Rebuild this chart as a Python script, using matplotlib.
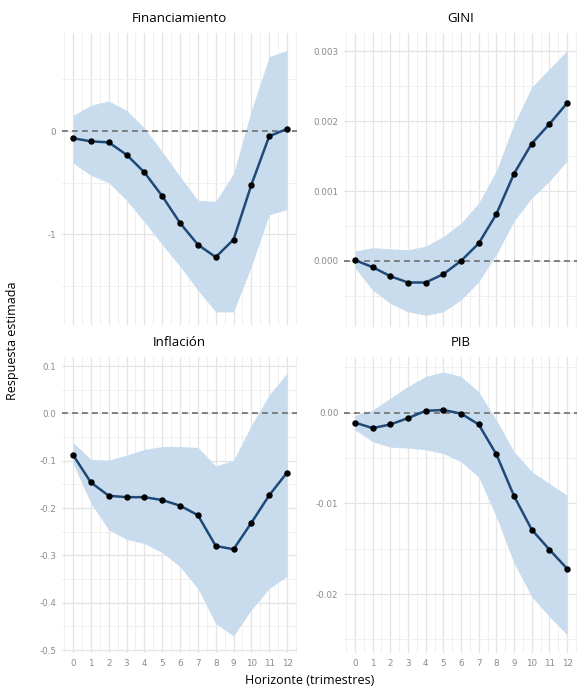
"""Respuestas al impulso por variable (4 paneles, estilo ggplot minimal)."""

import matplotlib
matplotlib.use("Agg")
import matplotlib.pyplot as plt
import numpy as np
from matplotlib.ticker import MultipleLocator, FixedLocator

plt.rcParams["axes.unicode_minus"] = False

horizonte = list(range(13))

# --- datos --------------------------------------------------------------------
fin_est = [-0.07, -0.10, -0.11, -0.23, -0.40, -0.63, -0.89, -1.10, -1.22, -1.05, -0.52, -0.05, 0.02]
fin_sup = [0.15, 0.25, 0.29, 0.20, 0.03, -0.20, -0.44, -0.67, -0.68, -0.41, 0.20, 0.72, 0.78]
fin_inf = [-0.31, -0.43, -0.50, -0.67, -0.88, -1.10, -1.31, -1.54, -1.75, -1.75, -1.31, -0.81, -0.76]

gini_est = [0.00001, -0.00009, -0.00022, -0.00031, -0.00031, -0.00019, 0.0, 0.00025,
            0.00067, 0.00125, 0.00168, 0.00196, 0.00226]
gini_sup = [0.00014, 0.00019, 0.00017, 0.00016, 0.00021, 0.00035, 0.00054, 0.00083,
            0.00129, 0.00196, 0.00249, 0.00275, 0.00301]
gini_inf = [-0.00010, -0.00042, -0.00061, -0.00073, -0.00078, -0.00073, -0.00056, -0.00030,
            0.00009, 0.00057, 0.00090, 0.00114, 0.00143]

inf_est = [-0.088, -0.146, -0.174, -0.177, -0.177, -0.183, -0.195, -0.215, -0.280, -0.287,
           -0.231, -0.173, -0.125]
inf_sup = [-0.062, -0.097, -0.099, -0.088, -0.076, -0.070, -0.070, -0.072, -0.111, -0.099,
           -0.025, 0.039, 0.085]
inf_inf = [-0.106, -0.190, -0.246, -0.266, -0.275, -0.294, -0.324, -0.370, -0.444, -0.470,
           -0.415, -0.370, -0.344]

pib_est = [-0.0011, -0.0017, -0.0013, -0.0006, 0.0002, 0.0003, -0.0001, -0.0013, -0.0046,
           -0.0092, -0.0129, -0.0151, -0.0172]
pib_sup = [-0.0003, 0.0003, 0.0016, 0.0029, 0.0040, 0.0045, 0.0040, 0.0023, -0.0008,
           -0.0043, -0.0065, -0.0078, -0.0091]
pib_inf = [-0.0019, -0.0032, -0.0038, -0.0039, -0.0041, -0.0045, -0.0054, -0.0071, -0.0115,
           -0.0166, -0.0203, -0.0225, -0.0245]

# (título, estimación, banda sup, banda inf, ticks y, etiquetas y, paso minor, ylim)
paneles = [
    ("Financiamiento", fin_est, fin_sup, fin_inf, [-1, 0], ["-1", "0"], 0.5, (-1.877, 0.948)),
    ("GINI", gini_est, gini_sup, gini_inf, [0.0, 0.001, 0.002, 0.003],
     ["0.000", "0.001", "0.002", "0.003"], 0.0005, (-0.000947, 0.003264)),
    ("Inflación", inf_est, inf_sup, inf_inf, [-0.5, -0.4, -0.3, -0.2, -0.1, 0.0, 0.1],
     ["-0.5", "-0.4", "-0.3", "-0.2", "-0.1", "0.0", "0.1"], 0.05, (-0.506, 0.119)),
    ("PIB", pib_est, pib_sup, pib_inf, [-0.02, -0.01, 0.0], ["-0.02", "-0.01", "0.00"],
     0.005, (-0.0265, 0.00614)),
]

# posiciones en fracción de figura (577x692 px)
posiciones = [
    [0.1075, 0.5303, 0.4073, 0.4220],
    [0.5962, 0.5275, 0.4038, 0.4248],
    [0.1075, 0.0564, 0.4073, 0.4277],
    [0.5962, 0.0564, 0.4038, 0.4277],
]

FILL = "#c8dcee"
LINEA = "#1f4a78"
TITLE_FONT = ["Open Sans", "DejaVu Sans"]

fig = plt.figure(figsize=(5.77, 6.92), dpi=100)
fig.patch.set_facecolor("white")

for i, ((titulo, est, sup, inf, yt, ylab, paso, ylim), pos) in enumerate(zip(paneles, posiciones)):
    ax = fig.add_axes(pos)
    ax.set_xlim(-0.62, 12.56)
    ax.set_ylim(*ylim)

    ax.xaxis.set_major_locator(FixedLocator(horizonte))
    ax.xaxis.set_minor_locator(MultipleLocator(0.5))
    ax.yaxis.set_major_locator(FixedLocator(yt))
    ax.yaxis.set_minor_locator(MultipleLocator(paso))
    ax.set_yticklabels(ylab)
    if i >= 2:
        ax.set_xticklabels([str(h) for h in horizonte])
    else:
        ax.set_xticklabels([])

    ax.grid(which="major", color="#e4e4e4", linewidth=0.9)
    ax.grid(which="minor", color="#eeeeee", linewidth=0.6)
    ax.set_axisbelow(True)
    for s in ax.spines.values():
        s.set_visible(False)
    ax.tick_params(which="both", length=0, labelsize=6.3, labelcolor="#8a8a8a", pad=4)

    ax.fill_between(horizonte, inf, sup, color=FILL, linewidth=0, zorder=2)
    ax.axhline(0, color="#6e6e6e", linestyle=(0, (3.5, 2.5)), linewidth=1.2, zorder=3)
    ax.plot(horizonte, est, color=LINEA, linewidth=1.8, zorder=4)
    ax.plot(horizonte, est, "o", color="black", markersize=3.6, zorder=5)

    ax.set_title(titulo, fontsize=9.5, family=TITLE_FONT, color="black", pad=8)

fig.text(0.022, 0.508, "Respuesta estimada", rotation=90, ha="center", va="center",
         fontsize=9, family=TITLE_FONT, color="black")
fig.text(0.537, 0.017, "Horizonte (trimestres)", ha="center", va="center",
         fontsize=9, family=TITLE_FONT, color="black")

fig.savefig("out.png", dpi=100, facecolor="white")
